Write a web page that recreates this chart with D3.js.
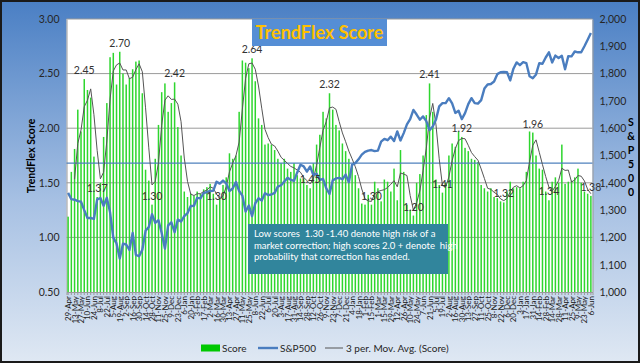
<!DOCTYPE html>
<html>
<head>
<meta charset="utf-8">
<script src="https://cdn.jsdelivr.net/npm/d3@7"></script>
<style>
  body { margin: 0; background: #fff; }
  svg { display: block; font-family: Lato, "Open Sans", sans-serif; }
</style>
</head>
<body>
<svg id="chart" width="640" height="363"></svg>
<script>
// weekly data, first week
const startDate = new Date(2011, 3, 29);

// TrendFlex score, one value per week
const score = [
  1.19, 1.60, 1.81, 2.17, 1.97, 2.45, 2.35, 2.28, 1.74, 1.37,
  1.50, 1.92, 2.23, 2.65, 2.69, 2.40, 2.70, 2.50, 2.40, 2.46,
  2.54, 2.61, 2.62, 2.32, 1.62, 1.52, 1.30, 1.72, 2.03, 2.33,
  2.41, 2.15, 2.23, 2.42, 2.01, 1.75, 1.42, 1.37, 1.40, 1.38,
  1.42, 1.40, 1.44, 1.46, 1.49, 1.40, 1.30, 1.36, 1.48, 1.55,
  1.77, 1.72, 1.75, 2.15, 2.62, 2.60, 2.55, 2.64, 2.43, 2.09,
  2.03, 1.85, 1.86, 1.85, 1.80, 1.72, 1.68, 1.72, 1.63, 1.60,
  1.68, 1.57, 1.54, 1.54, 1.48, 1.45, 1.68, 1.85, 1.94, 2.15,
  2.09, 2.32, 2.17, 2.03, 1.98, 1.86, 1.79, 1.72, 1.65, 1.57,
  1.45, 1.31, 1.30, 1.39, 1.30, 1.51, 1.45, 1.33, 1.53, 1.51,
  1.42, 1.63, 1.34, 1.80, 1.60, 1.30, 1.25, 1.20, 1.50, 1.58,
  1.75, 2.12, 2.41, 2.15, 1.53, 1.48, 1.41, 1.50, 1.75, 1.86,
  1.83, 1.97, 1.92, 1.82, 1.79, 1.72, 1.71, 1.69, 1.48, 1.45,
  1.42, 1.45, 1.37, 1.36, 1.33, 1.32, 1.42, 1.51, 1.45, 1.46,
  1.45, 1.51, 1.60, 1.97, 1.96, 1.75, 1.63, 1.62, 1.42, 1.34,
  1.51, 1.55, 1.50, 1.85, 1.49, 1.51, 1.52, 1.55, 1.63, 1.50,
  1.42, 1.40, 1.38
];

// S&P500 weekly close
const sp500 = [
  1363, 1340, 1338, 1333, 1331, 1300, 1271, 1271, 1268, 1339,
  1344, 1316, 1345, 1292, 1199, 1178, 1123, 1177, 1174, 1154,
  1216, 1136, 1131, 1155, 1224, 1238, 1285, 1253, 1263, 1216,
  1159, 1244, 1255, 1219, 1265, 1258,
  1278, 1289, 1315, 1316, 1345, 1343, 1362, 1366, 1370, 1371,
  1404, 1397, 1408, 1398, 1370, 1379, 1403, 1370, 1353, 1295,
  1317, 1278, 1325, 1343, 1335, 1362, 1355, 1357, 1363, 1386,
  1391, 1405, 1418, 1411, 1407, 1438, 1466, 1460, 1441, 1460,
  1428, 1433, 1411, 1414, 1380, 1359, 1409, 1416, 1418, 1413,
  1430, 1402,
  1466, 1472, 1486, 1503, 1513, 1518, 1520, 1516, 1518, 1551,
  1561, 1556, 1569, 1553, 1588, 1555, 1582, 1614, 1633, 1667,
  1650, 1631, 1643, 1626, 1593, 1606, 1632, 1680, 1692, 1692,
  1710, 1691, 1656, 1664, 1633, 1655, 1688, 1710, 1692, 1690,
  1703, 1745, 1760, 1762, 1771, 1798, 1805, 1806, 1805, 1775,
  1818, 1841,
  1831, 1842, 1838, 1790, 1783, 1797, 1838, 1836, 1859, 1878,
  1841, 1866, 1857, 1865, 1816, 1864, 1863, 1881, 1878, 1878,
  1900, 1924, 1949
];

// bars that carry a value label
const labelIdx = [5, 9, 16, 26, 33, 46, 57, 75, 81, 94, 107, 112, 116, 122, 135, 144, 149, 162];

const leftTicks = [0.5, 1, 1.5, 2, 2.5, 3];
const rightTicks = [1000, 1100, 1200, 1300, 1400, 1500, 1600, 1700, 1800, 1900, 2000];
const refLevel = 1.68;

const noteLines = [
  "Low scores  1.30 -1.40 denote high risk of a",
  "market correction; high scores 2.0 + denote  high",
  "probability that correction has ended."
];
const legendItems = ["Score", "S&P500", "3 per. Mov. Avg. (Score)"];

const dates = score.map((d, i) => d3.timeWeek.offset(startDate, i));
const ma = score.map((d, i) => i < 2 ? null : d3.mean(score.slice(i - 2, i + 1)));

const svg = d3.select('#chart');
const W = 640, H = 363;
const plot = {left: 66.5, right: 592.5, top: 19, bottom: 292};

// background
const grad = svg.append('defs').append('linearGradient')
  .attr('id', 'bg').attr('x1', 0).attr('y1', 0).attr('x2', 0).attr('y2', 1);
grad.append('stop').attr('offset', '0%').attr('stop-color', '#4a7fc4');
grad.append('stop').attr('offset', '55%').attr('stop-color', '#a6c0e3');
grad.append('stop').attr('offset', '100%').attr('stop-color', '#dfe8f3');

svg.append('rect')
  .attr('x', 1).attr('y', 1).attr('width', W - 2).attr('height', H - 2)
  .style('fill', 'url(#bg)')
  .style('stroke', '#1a1a1a').style('stroke-width', 2);

svg.append('rect')
  .attr('x', plot.left).attr('y', plot.top)
  .attr('width', plot.right - plot.left).attr('height', plot.bottom - plot.top)
  .style('fill', '#fff');

const x = d3.scaleBand().domain(d3.range(score.length)).range([plot.left, plot.right]);
const y = d3.scaleLinear().domain([0.5, 3]).range([plot.bottom, plot.top]);
const y2 = d3.scaleLinear().domain([1000, 2000]).range([plot.bottom, plot.top]);
const cx = i => x(i) + x.bandwidth() / 2;

// gridlines
svg.append('g').selectAll('line')
  .data(leftTicks.slice(1))
  .join('line')
  .attr('x1', plot.left).attr('x2', plot.right)
  .attr('y1', d => y(d)).attr('y2', d => y(d))
  .style('stroke', '#9a9a9a').style('stroke-width', 1);

// left axis
const yAxis = svg.append('g')
  .attr('transform', `translate(${plot.left},0)`)
  .call(d3.axisLeft(y).tickValues(leftTicks).tickFormat(d3.format('.2f')).tickSize(0).tickPadding(7));
yAxis.select('.domain').style('stroke', '#9a9a9a');
yAxis.selectAll('text').style('font-size', '10.5px').style('fill', '#262626')
  .style('font-family', 'Lato, sans-serif');

// right axis
const y2Axis = svg.append('g')
  .attr('transform', `translate(${plot.right},0)`)
  .call(d3.axisRight(y2).tickValues(rightTicks).tickFormat(d3.format(',')).tickSize(0).tickPadding(7));
y2Axis.select('.domain').style('stroke', '#9a9a9a');
y2Axis.selectAll('text').style('font-size', '10.5px').style('fill', '#262626')
  .style('font-family', 'Lato, sans-serif');

// bars
svg.append('g').selectAll('rect')
  .data(score)
  .join('rect')
  .attr('x', (d, i) => cx(i) - 0.75)
  .attr('width', 1.5)
  .attr('y', d => y(d))
  .attr('height', d => y(0.5) - y(d))
  .style('fill', '#2ed62e');

// reference line
svg.append('line')
  .attr('x1', plot.left).attr('x2', plot.right)
  .attr('y1', y(refLevel)).attr('y2', y(refLevel))
  .style('stroke', '#4f81bd').style('stroke-width', 1.3);

// bottom axis
const xAxis = svg.append('g')
  .attr('transform', `translate(0,${plot.bottom})`)
  .call(d3.axisBottom(x).tickSize(3).tickFormat(''));
xAxis.select('.domain').style('stroke', '#9a9a9a');
xAxis.selectAll('.tick line').style('stroke', '#9a9a9a');

const fmtDate = d3.timeFormat('%-d-%b');
svg.append('g').selectAll('text')
  .data(dates.filter((d, i) => i % 2 === 0))
  .join('text')
  .attr('transform', (d, i) => `translate(${cx(i * 2) + 3},${plot.bottom + 4}) rotate(-90)`)
  .attr('text-anchor', 'end')
  .style('font-size', '8px')
  .style('fill', '#1a1a1a')
  .text(d => fmtDate(d));

// moving average
svg.append('path')
  .datum(ma)
  .attr('d', d3.line().defined(d => d !== null).x((d, i) => cx(i)).y(d => y(d)))
  .style('fill', 'none').style('stroke', '#555').style('stroke-width', 1);

// S&P500
svg.append('path')
  .datum(sp500)
  .attr('d', d3.line().x((d, i) => cx(i)).y(d => y2(d)))
  .style('fill', 'none').style('stroke', '#4a7dbf').style('stroke-width', 2.4)
  .style('stroke-linejoin', 'round');

// value labels
svg.append('g').selectAll('text')
  .data(labelIdx)
  .join('text')
  .attr('x', i => cx(i))
  .attr('y', i => y(score[i]) - 5)
  .attr('text-anchor', 'middle')
  .style('font-size', '10.5px')
  .style('fill', '#333')
  .text(i => score[i].toFixed(2));

// title
svg.append('rect')
  .attr('x', 252).attr('y', 19).attr('width', 135).attr('height', 27)
  .style('fill', '#558ed5');
svg.append('text')
  .attr('x', 319.5).attr('y', 39)
  .attr('text-anchor', 'middle')
  .style('font-size', '18px').style('font-weight', 'bold')
  .style('fill', '#ffc000')
  .text('TrendFlex Score');

// axis titles
svg.append('text')
  .attr('transform', 'translate(35,156) rotate(-90)')
  .attr('text-anchor', 'middle')
  .style('font-size', '10.5px').style('font-weight', 'bold')
  .text('TrendFlex Score');

svg.append('g').selectAll('text')
  .data('S&P500'.split(''))
  .join('text')
  .attr('x', 631).attr('y', (d, i) => 126 + i * 14)
  .attr('text-anchor', 'middle')
  .style('font-size', '10.5px').style('font-weight', 'bold')
  .text(d => d);

// note box
svg.append('rect')
  .attr('x', 248).attr('y', 224).attr('width', 200).attr('height', 50)
  .style('fill', '#31859c');
svg.append('g').selectAll('text')
  .data(noteLines)
  .join('text')
  .attr('x', 254).attr('y', (d, i) => 237 + i * 11.5)
  .style('font-size', '9.5px').style('fill', '#fff')
  .style('white-space', 'pre')
  .text(d => d);

// legend
const legend = svg.append('g').attr('transform', 'translate(0,348)');
legend.append('rect').attr('x', 201).attr('y', -3.5).attr('width', 19).attr('height', 7).style('fill', '#00c800');
legend.append('text').attr('x', 222).attr('y', 3.5).style('font-size', '10px').style('fill', '#262626').text(legendItems[0]);
legend.append('line').attr('x1', 258).attr('x2', 278).style('stroke', '#4a7dbf').style('stroke-width', 2.4);
legend.append('text').attr('x', 280).attr('y', 3.5).style('font-size', '10px').style('fill', '#262626').text(legendItems[1]);
legend.append('line').attr('x1', 325).attr('x2', 343).style('stroke', '#555').style('stroke-width', 1);
legend.append('text').attr('x', 346).attr('y', 3.5).style('font-size', '10px').style('fill', '#262626').text(legendItems[2]);
</script>
</body>
</html>
